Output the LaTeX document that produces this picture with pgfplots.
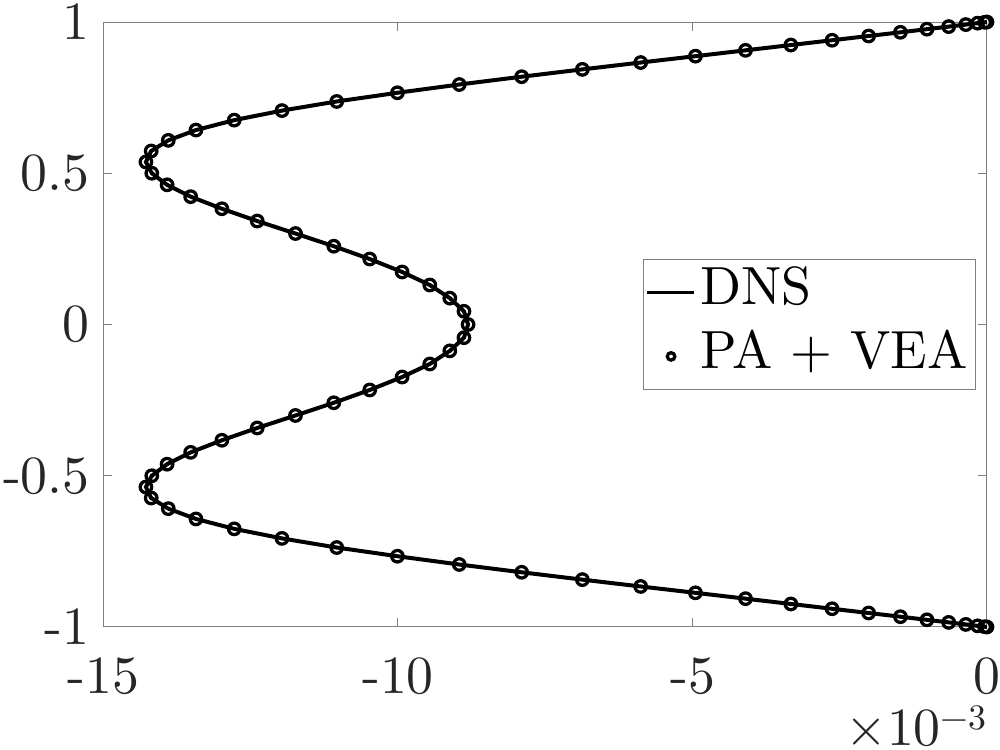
\documentclass[border=0pt]{standalone}
\usepackage{pgfplots}
\pgfplotsset{compat=1.18}
\usepackage{pgfplotstable}
\font\lmbig="[lmroman10-regular]:mapping=tex-text" at 21.5pt
\font\lmsmall="[lmroman10-regular]:mapping=tex-text" at 14.3pt
\pgfplotstableread{
x y
0 1.0
-0.04 0.99905
-0.16 0.99619
-0.36 0.99144
-0.65 0.98481
-1.02 0.97630
-1.47 0.96593
-2.01 0.95372
-2.63 0.93969
-3.33 0.92388
-4.10 0.90631
-4.95 0.88701
-5.88 0.86603
-6.87 0.84339
-7.90 0.81915
-8.96 0.79335
-10.01 0.76604
-11.04 0.73728
-11.97 0.70711
-12.78 0.67559
-13.43 0.64279
-13.90 0.60876
-14.19 0.57358
-14.28 0.53730
-14.18 0.5
-13.92 0.46175
-13.52 0.42262
-12.99 0.38268
-12.39 0.34202
-11.74 0.30071
-11.09 0.25882
-10.48 0.21644
-9.93 0.17365
-9.46 0.13053
-9.12 0.08716
-8.88 0.04362
-8.81 0
-8.88 -0.04362
-9.12 -0.08716
-9.46 -0.13053
-9.93 -0.17365
-10.48 -0.21644
-11.09 -0.25882
-11.74 -0.30071
-12.39 -0.34202
-12.99 -0.38268
-13.52 -0.42262
-13.92 -0.46175
-14.18 -0.5
-14.28 -0.53730
-14.19 -0.57358
-13.90 -0.60876
-13.43 -0.64279
-12.78 -0.67559
-11.97 -0.70711
-11.04 -0.73728
-10.01 -0.76604
-8.96 -0.79335
-7.90 -0.81915
-6.87 -0.84339
-5.88 -0.86603
-4.95 -0.88701
-4.10 -0.90631
-3.33 -0.92388
-2.63 -0.93969
-2.01 -0.95372
-1.47 -0.96593
-1.02 -0.97630
-0.65 -0.98481
-0.36 -0.99144
-0.16 -0.99619
-0.04 -0.99905
0 -1.0
}\profile
\begin{document}
\begin{tikzpicture}
\begin{axis}[
  name=ax,
  scale only axis, width=353.4pt, height=242pt,
  xmin=-15, xmax=0, ymin=-1, ymax=1,
  clip=false,
  xtick={-15,-10,-5,0}, xticklabels={-15,-10,-5,0},
  ytick={-1,-0.5,0,0.5,1}, yticklabels={-1,-0.5,0,0.5,1},
  tick align=inside, major tick length=3.6pt,
  axis line style={black!50, line width=0.4pt},
  every tick/.style={black!50, line width=0.4pt},
  tick label style={font=\lmbig, text=black!85},
  xticklabel style={yshift=-8.8pt},
  yticklabel style={xshift=-2pt},
  legend style={at={(0.987,0.608)}, anchor=north east, draw=black!50, line width=0.4pt,
    fill=white, font=\lmbig, text=black,
    inner xsep=1pt, inner ysep=0.3pt, row sep=0pt,
    nodes={inner xsep=2pt, inner ysep=2.8pt, text height=15pt, text depth=5pt},
    /tikz/every even column/.append style={column sep=0pt}},
  legend cell align=left,
]
\addplot[black, line width=1.6pt, no markers,
  legend image code/.code={\draw[black, line width=1.1pt] (0pt,0pt) -- (18.7pt,0pt);}]
  table[x=x, y=y] {\profile};
\addlegendentry{DNS}
\addplot[black, only marks, mark=o, mark size=2.3pt, mark options={line width=1.3pt},
  legend image code/.code={\draw[black, line width=0.9pt, mark size=1.5pt] plot[mark=o] coordinates {(9.6pt,0pt)};}]
  table[x=x, y=y] {\profile};
\addlegendentry{PA + VEA}
\end{axis}
\node[anchor=base east, inner sep=0pt, text=black!85]
  at ([yshift=-47.4pt]ax.south east) {\lmbig ×10\raisebox{6.5pt}{\lmsmall −3}};
\pgfresetboundingbox
\path[use as bounding box] (-41.4pt,-49.2pt) rectangle (358.6pt,250.8pt);
\end{tikzpicture}
\end{document}
